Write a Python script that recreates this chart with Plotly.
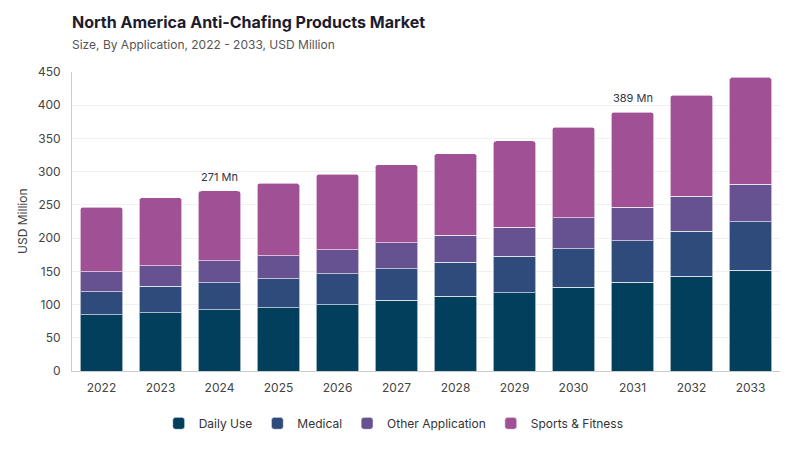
import plotly.graph_objects as go

years = ["2022", "2023", "2024", "2025", "2026", "2027",
         "2028", "2029", "2030", "2031", "2032", "2033"]
daily_use = [84.3, 87.8, 92.3, 95.3, 99.8, 106.4, 112.4, 117.9, 126.0, 133.5, 142.5, 152.0]
medical = [35.1, 39.6, 40.6, 43.7, 46.7, 47.6, 51.2, 54.7, 58.1, 62.6, 67.7, 72.7]
other_application = [30.1, 31.1, 33.1, 34.6, 36.1, 39.1, 40.6, 43.7, 46.2, 50.3, 52.7, 56.3]
sports_fitness = [96.9, 102.4, 105.0, 108.9, 113.4, 117.4, 122.9, 129.9, 136.5, 143.0, 152.0, 161.0]
labelled_years = ["2024", "2031"]

series = [
    ("Daily Use", daily_use, "#013f5c"),
    ("Medical", medical, "#2f4b7c"),
    ("Other Application", other_application, "#665191"),
    ("Sports & Fitness", sports_fitness, "#a05195"),
]

fig = go.Figure()
for name, vals, color in series:
    fig.add_trace(go.Bar(
        x=years, y=vals, name=name,
        marker=dict(color=color, line=dict(color="rgba(255,255,255,0.6)", width=1)),
    ))

# total labels on a couple of bars (x as category index, "2024" would be read as index 2024)
totals = [sum(v) for v in zip(daily_use, medical, other_application, sports_fitness)]
for yr in labelled_years:
    i = years.index(yr)
    fig.add_annotation(x=i, y=totals[i], text=f"{totals[i]:.0f} Mn", showarrow=False,
                       yanchor="bottom", yshift=5,
                       font=dict(size=11, color="#333344"))

# y axis title as annotation so margins stay fixed
fig.add_annotation(xref="paper", yref="paper", x=-0.07, y=0.5, text="USD Million",
                   textangle=-90, showarrow=False, xanchor="center", yanchor="middle",
                   font=dict(size=12, color="#444444"))

# page body has an 8px margin, so the figure is 8px smaller than the window
fig.update_layout(
    barmode="stack",
    bargap=0.28,
    barcornerradius=3,
    width=792, height=442,
    margin=dict(l=64, r=20, t=64, b=79, autoexpand=False),
    paper_bgcolor="white",
    plot_bgcolor="white",
    font=dict(family="Inter, Lato, sans-serif", color="#444444"),
    title=dict(
        text="<b>North America Anti-Chafing Products Market</b>"
             "<br><span style='font-size:12px;color:#555555'>Size, By Application, 2022 - 2033, USD Million</span>",
        x=64 / 792, xanchor="left", y=0.955, yanchor="top",
        font=dict(size=16, color="#1c1c2e"),
    ),
    legend=dict(orientation="h", xref="container", x=0.487, xanchor="center",
                y=-0.175, yanchor="middle",
                font=dict(size=12, color="#333333"), traceorder="normal"),
    showlegend=True,
)
fig.update_yaxes(
    range=[0, 450], dtick=50,
    showgrid=True, gridcolor="#f0f0f0",
    showline=True, linecolor="#cccccc",
    ticks="", ticklabelstandoff=8, tickfont=dict(size=12, color="#444444"),
    zeroline=False, automargin=False,
)
fig.update_xaxes(
    type="category", categoryorder="array", categoryarray=years,
    range=[-0.5, len(years) - 0.5],
    showline=True, linecolor="#cccccc",
    ticks="", ticklabelstandoff=6, tickfont=dict(size=12, color="#444444"),
    automargin=False,
)

fig.write_html("out.html")
